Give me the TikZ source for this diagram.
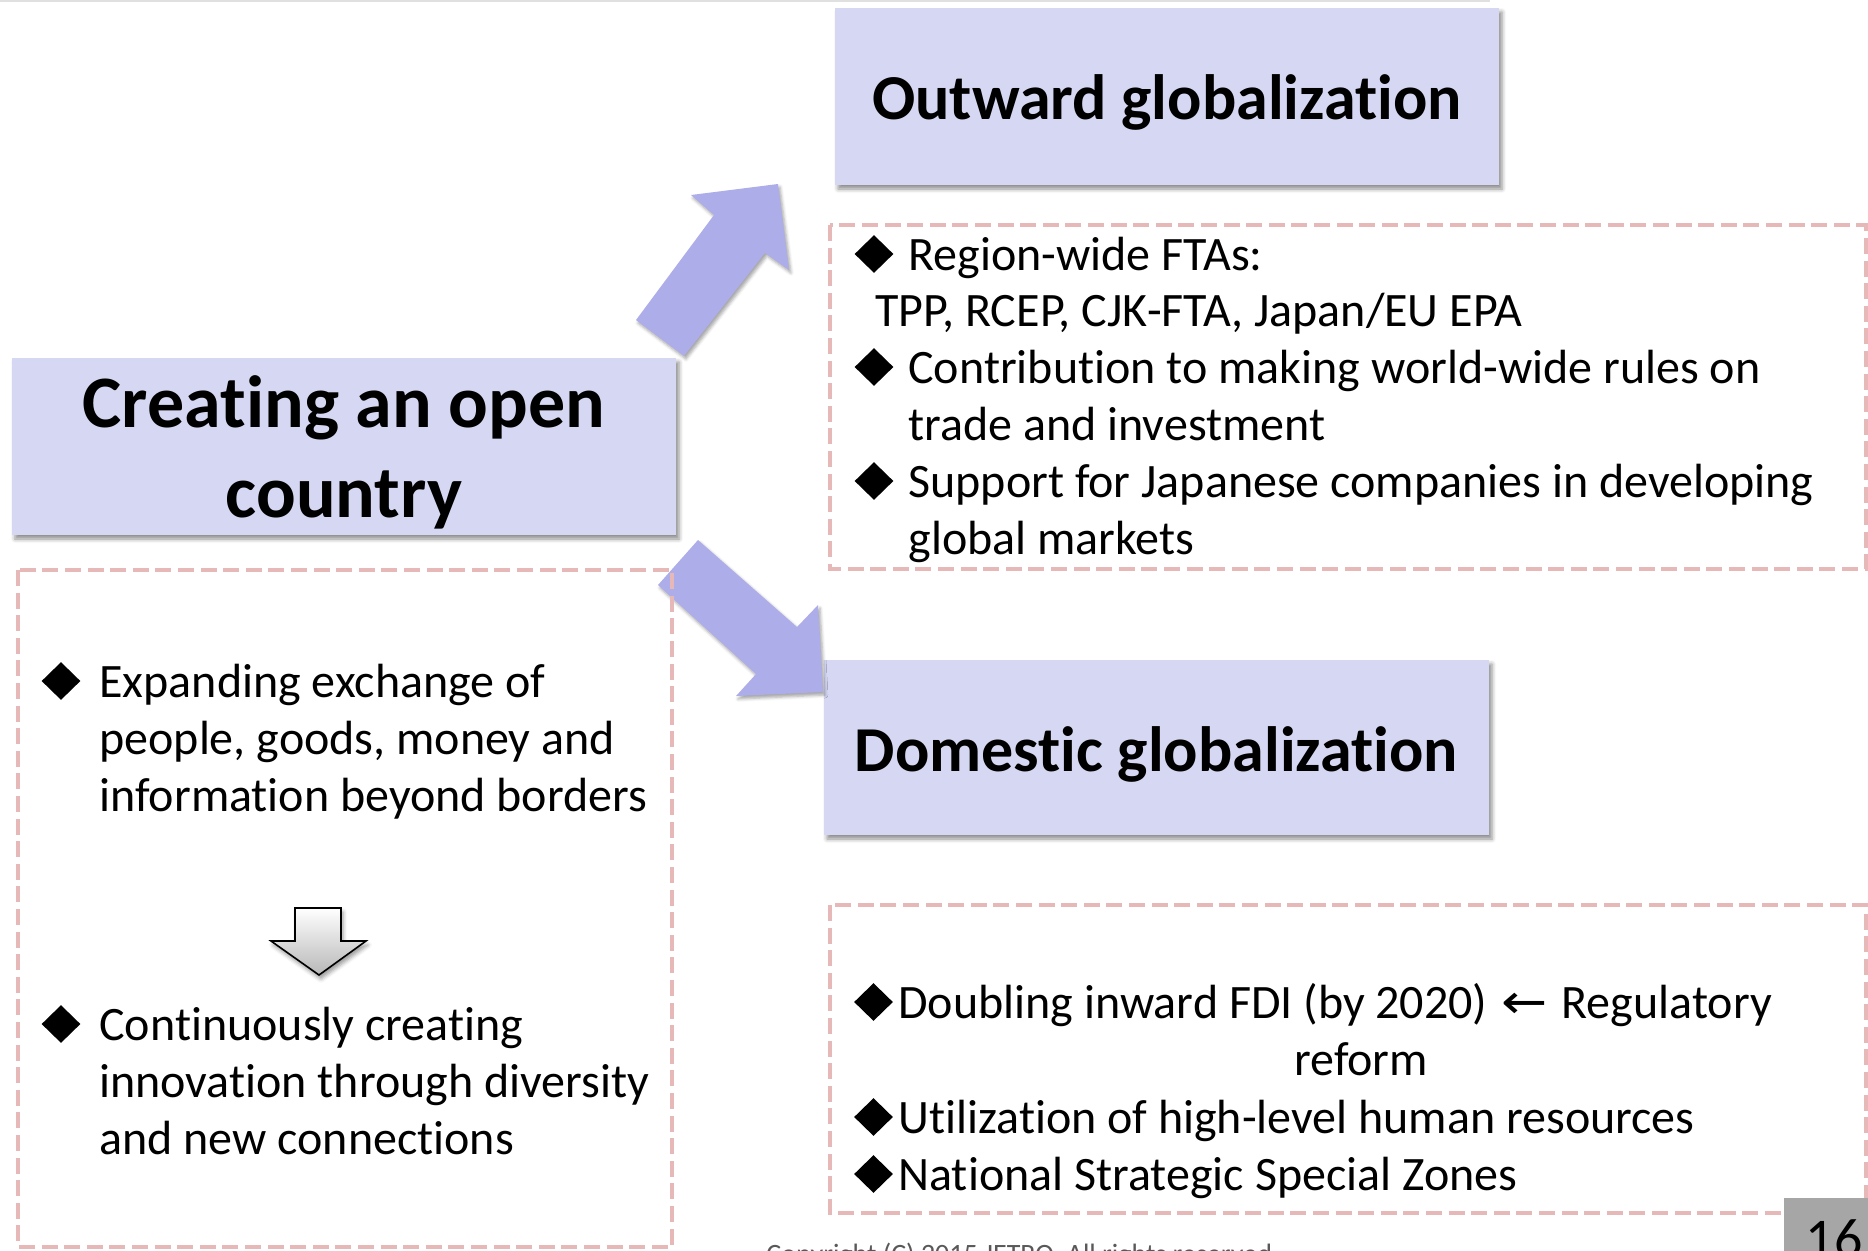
\documentclass[tikz,border=0pt]{standalone}
\usepackage{fontspec}
\setmainfont{Carlito}[RawFeature={-liga}]
\newfontfamily\arrowfont{DejaVu Sans}
\usetikzlibrary{shapes.geometric,shadows.blur}

\definecolor{boxlilac}{RGB}{214,216,243}
\definecolor{arrowlilac}{RGB}{173,173,233}
\definecolor{dashpink}{RGB}{230,184,184}
\definecolor{pagegray}{RGB}{166,166,166}
\newcommand\bodysize{\fontsize{24pt}{28.6pt}\selectfont}

\begin{document}
\begin{tikzpicture}[
    x=0.5pt, y=-0.5pt,
    headbox/.style={fill=boxlilac, draw=none, inner sep=0pt,
        blur shadow={shadow xshift=1.5pt, shadow yshift=-2pt,
                     shadow blur radius=2pt, shadow opacity=45}},
    headtext/.style={font=\fontsize{32pt}{40pt}\selectfont\bfseries, inner sep=0pt},
    bigarrow/.style={fill=arrowlilac,
        blur shadow={shadow xshift=1pt, shadow yshift=-1.5pt,
                     shadow blur radius=1.5pt, shadow opacity=35}},
    dashbox/.style={draw=dashpink, line width=2pt, dash pattern=on 8pt off 3.3pt},
    itemtext/.style={anchor=north west, inner sep=0pt, align=left, font=\bodysize},
    bullet/.style={diamond, fill=black, inner sep=0pt,
        minimum width=19.5pt, minimum height=19pt},
  ]
  \useasboundingbox (0,0) rectangle (1868,1250);
  \draw[black!12, line width=2pt] (0,0) -- (1490,0);

  % title boxes
  \node[headbox, minimum width=332pt, minimum height=88.5pt] (outward) at (1167,96.5) {};
  \node[headbox, minimum width=332pt, minimum height=88.5pt] (open) at (344,446.5) {};
  \node[headbox, minimum width=332.5pt, minimum height=87.5pt] (domestic) at (1156.5,747.5) {};
  \node[headtext, anchor=base] (outwardtxt) at (1167,119) {Outward globalization};
  \node[headtext, anchor=base] (domestictxt) at (1156.5,771) {Domestic globalization};
  \node[inner sep=0pt, anchor=north, align=center,
        font=\fontsize{37pt}{45pt}\selectfont\bfseries] (opentxt) at (344,364)
        {\strut Creating an open\\country};

  % block arrows
  \fill[bigarrow] (636,320) -- (714,215) -- (691,195) -- (778,184) -- (789,270)
      -- (765,253) -- (684,356) -- cycle;
  \fill[bigarrow] (698,540) -- (797,627) -- (818,605) -- (823,692) -- (736,696)
      -- (756,674) -- (658,585) -- cycle;

  % dashed frames
  \draw[dashbox] (830,225) rectangle (1866,569);
  \draw[dashbox] (18,570) rectangle (672,1247);
  \draw[dashbox] (830,905) rectangle (1866,1213);

  % outward list
  \node[bullet] (dfta) at (874,254) {};
  \node[itemtext] (fta) at (908,230) {\strut Region-wide FTAs:};
  \node[itemtext] (ftalist) at (875,286) {\strut TPP, RCEP, CJK-FTA, Japan/EU EPA};
  \node[bullet] (drules) at (874,367) {};
  \node[itemtext] (rules) at (908,343)
      {\strut Contribution to making world-wide rules on\\trade and investment};
  \node[bullet] (dmarkets) at (874,481) {};
  \node[itemtext] (markets) at (908,457)
      {\strut Support for Japanese companies in developing\\global markets};

  % open country list
  \node[bullet] (dexchange) at (61,681) {};
  \node[itemtext] (exchange) at (99,657)
      {\strut Expanding exchange of\\people, goods, money and\\information beyond borders};
  \draw[draw=black, line width=0.8pt, top color=white, bottom color=black!28,
        blur shadow={shadow xshift=1pt, shadow yshift=-2pt, shadow blur radius=2pt}]
      (295,908) -- (341,908) -- (341,941) -- (366,941) -- (319,975) -- (271,941)
      -- (295,941) -- cycle;
  \node[bullet] (dinnovation) at (61,1024) {};
  \node[itemtext] (innovation) at (99,1000)
      {\strut Continuously creating\\innovation through diversity\\and new connections};

  % domestic list
  \node[bullet] (dfdi) at (873.5,1002) {};
  \node[itemtext] (fdi) at (898,978)
      {\strut Doubling inward FDI (by 2020)\hspace{1.5pt}
       \scalebox{1.15}[1]{\arrowfont ←}\hspace{1.5pt} Regulatory};
  \node[itemtext] (reform) at (1294,1035) {\strut reform};
  \node[bullet] (dtalent) at (873.5,1117) {};
  \node[itemtext] (talent) at (898,1093) {\strut Utilization of high-level human resources};
  \node[bullet] (dzones) at (873.5,1174) {};
  \node[itemtext] (zones) at (898,1150) {\strut National Strategic Special Zones};

  % footer
  \node[anchor=base west, inner sep=0pt, text=black!65,
        font=\fontsize{14pt}{16pt}\selectfont] (copyright) at (766,1263)
        {Copyright (C) 2015 JETRO. All rights reserved.};
  \fill[pagegray] (1784,1198) rectangle (1870,1252);
  \node[anchor=base, inner sep=0pt, font=\fontsize{28pt}{30pt}\selectfont] (pagenum)
      at (1834,1257) {16};
\end{tikzpicture}
\end{document}
